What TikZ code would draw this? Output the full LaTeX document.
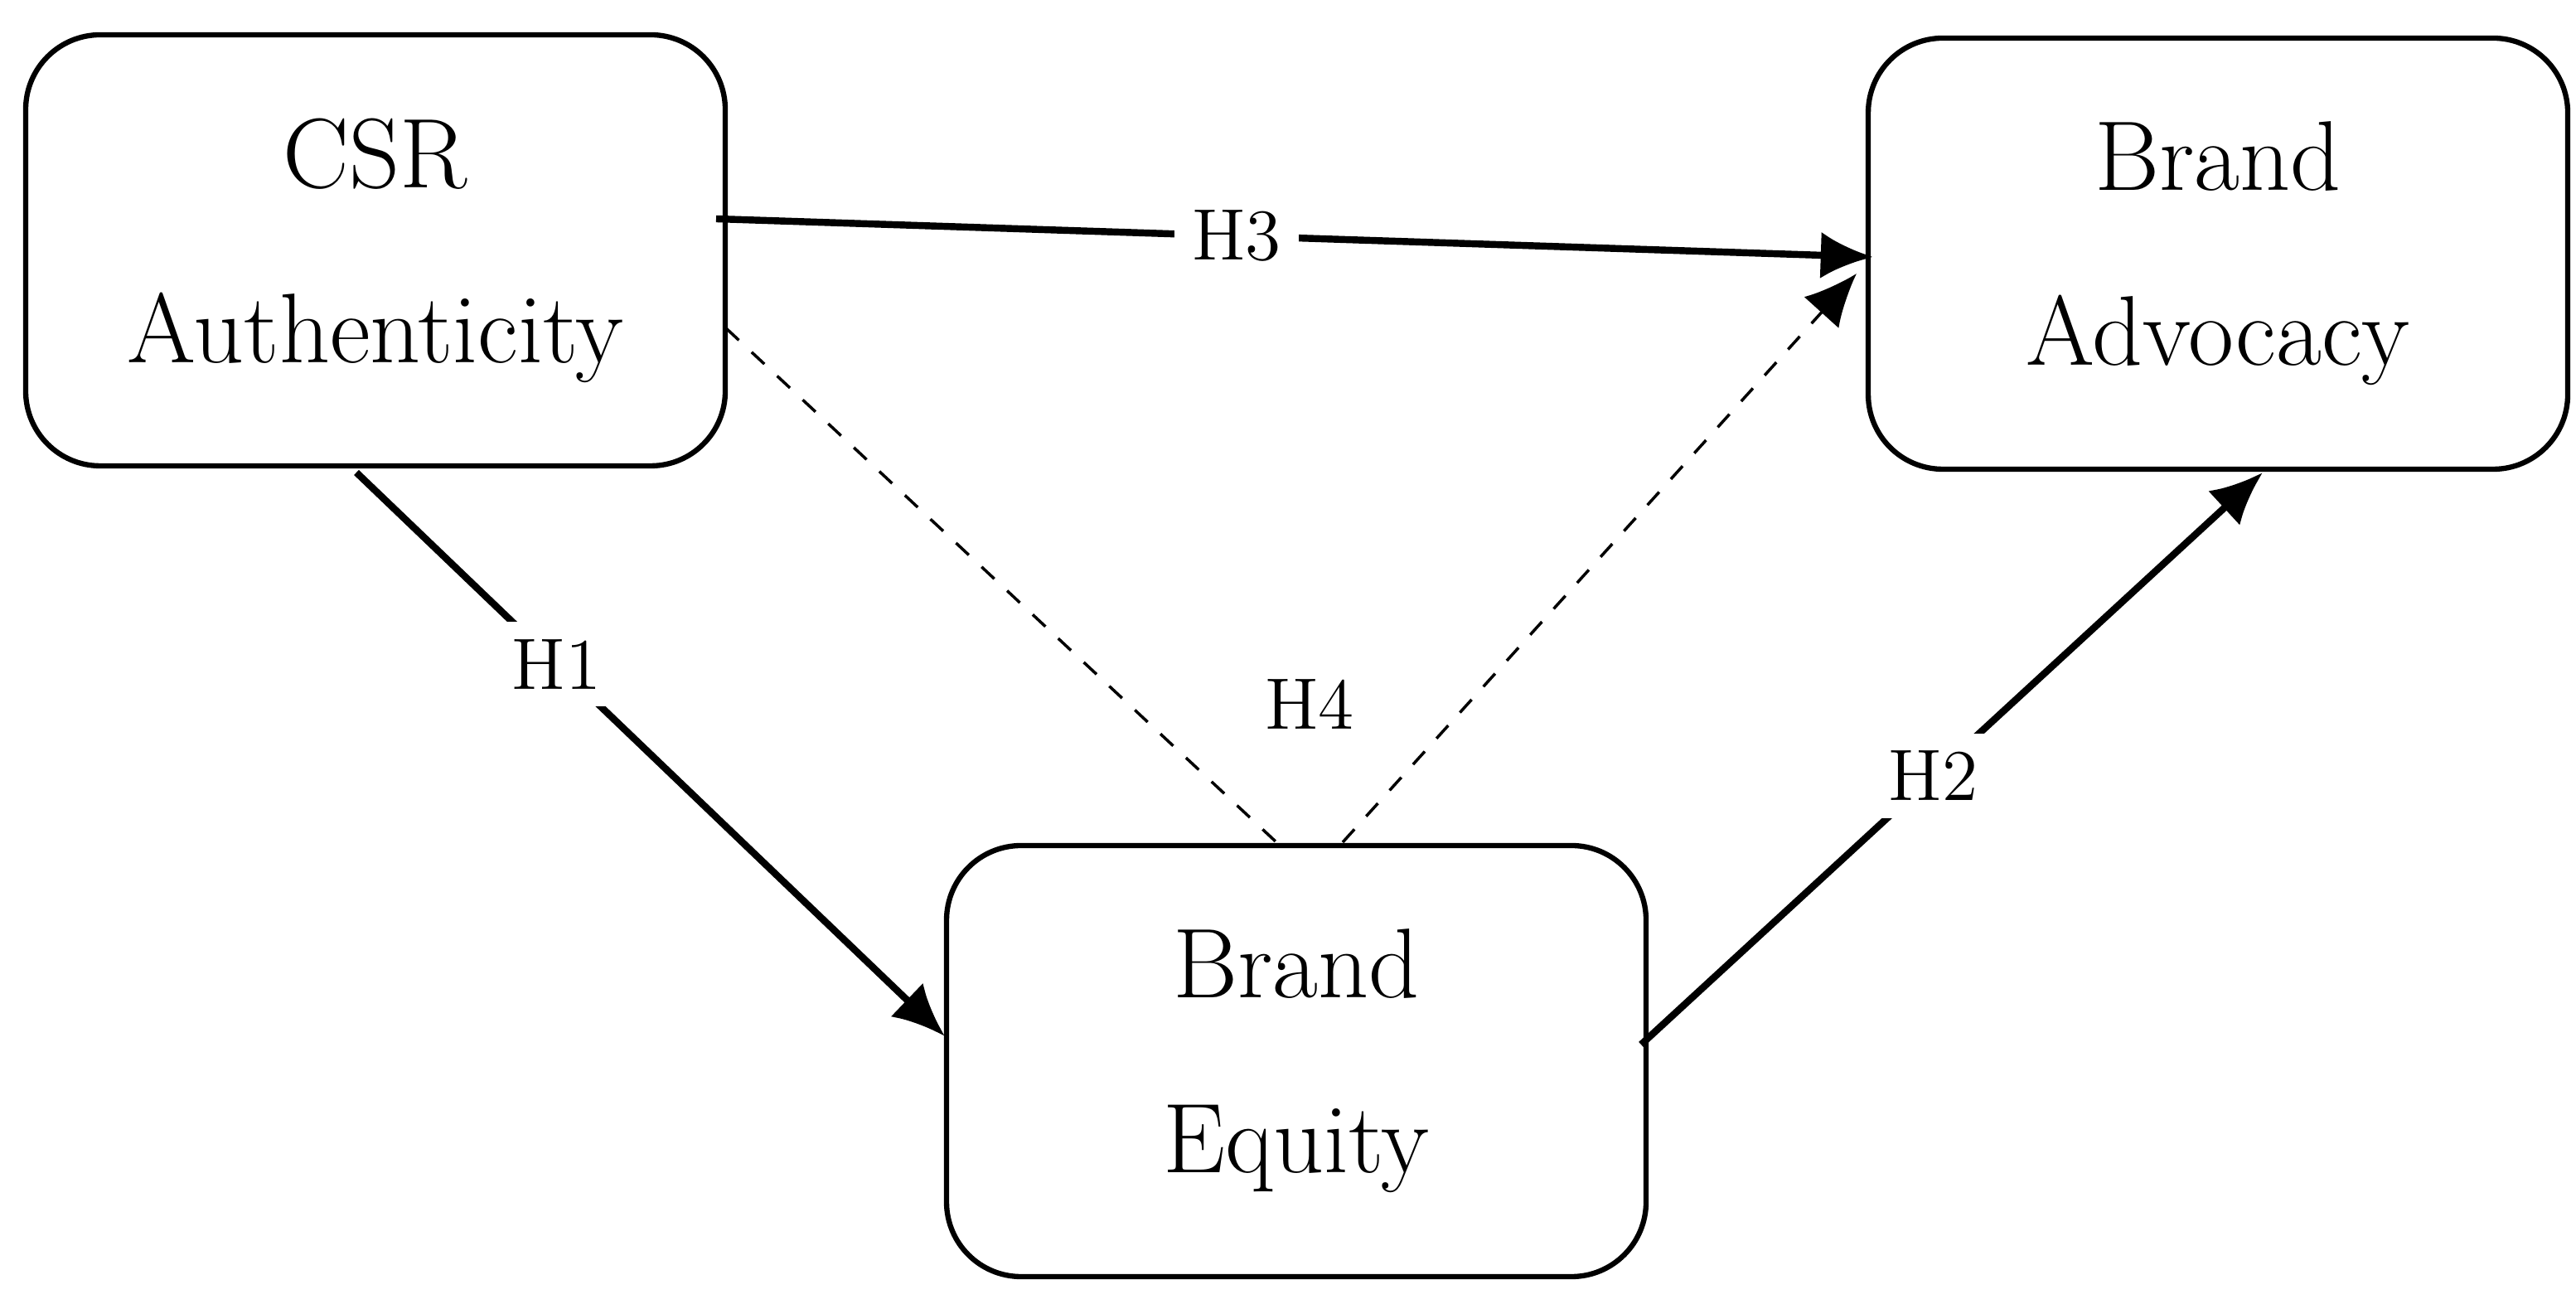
\documentclass[tikz,border=0pt]{standalone}
\usepackage{tikz}
\usetikzlibrary{arrows.meta}
\tikzstyle{box}=[draw,line width=0.9pt,rounded corners=0.45cm,minimum width=4.22cm,minimum height=2.6cm,align=center,font=\fontsize{17}{30}\selectfont]
\tikzstyle{hyp}=[fill=white,inner sep=3pt,font=\fontsize{12.5}{14}\selectfont]
\tikzstyle{path}=[line width=1.2pt,-{Latex[length=9pt,width=8pt]}]
\tikzstyle{med}=[dashed,line width=0.5pt]

\begin{document}
\begin{tikzpicture}[y=-1cm]
    \useasboundingbox (0,0) rectangle (15.54,7.865);
    \node[box] (CSR) at (2.265,1.51) {CSR\\Authenticity};
    \node[box] (ADV) at (13.38,1.53) {Brand\\Advocacy};
    \node[box] (EQU) at (7.82,6.40) {Brand\\Equity};

    \coordinate (C1) at (2.15,2.85);
    \coordinate (C3) at (4.32,1.32);
    \coordinate (C4) at (4.38,1.98);
    \coordinate (E1) at (5.70,6.25);
    \coordinate (E2) at (9.90,6.30);
    \coordinate (E4a) at (7.70,5.08);
    \coordinate (E4b) at (8.10,5.08);
    \coordinate (A2) at (13.65,2.85);
    \coordinate (A3) at (11.30,1.55);
    \coordinate (A4) at (11.20,1.65);

    \draw[path] (C1) -- (E1) node[hyp,pos=0.34] {H1};
    \draw[path] (E2) -- (A2) node[hyp,pos=0.47] {H2};
    \draw[path] (C3) -- (A3) node[hyp,pos=0.45] {H3};
    \draw[med] (C4) -- (E4a);
    \draw[med,-{Latex[length=9pt,width=8pt]}] (E4b) -- (A4);
    \node[hyp,fill=none] (H4) at (7.90,4.25) {H4};
\end{tikzpicture}
\end{document}
